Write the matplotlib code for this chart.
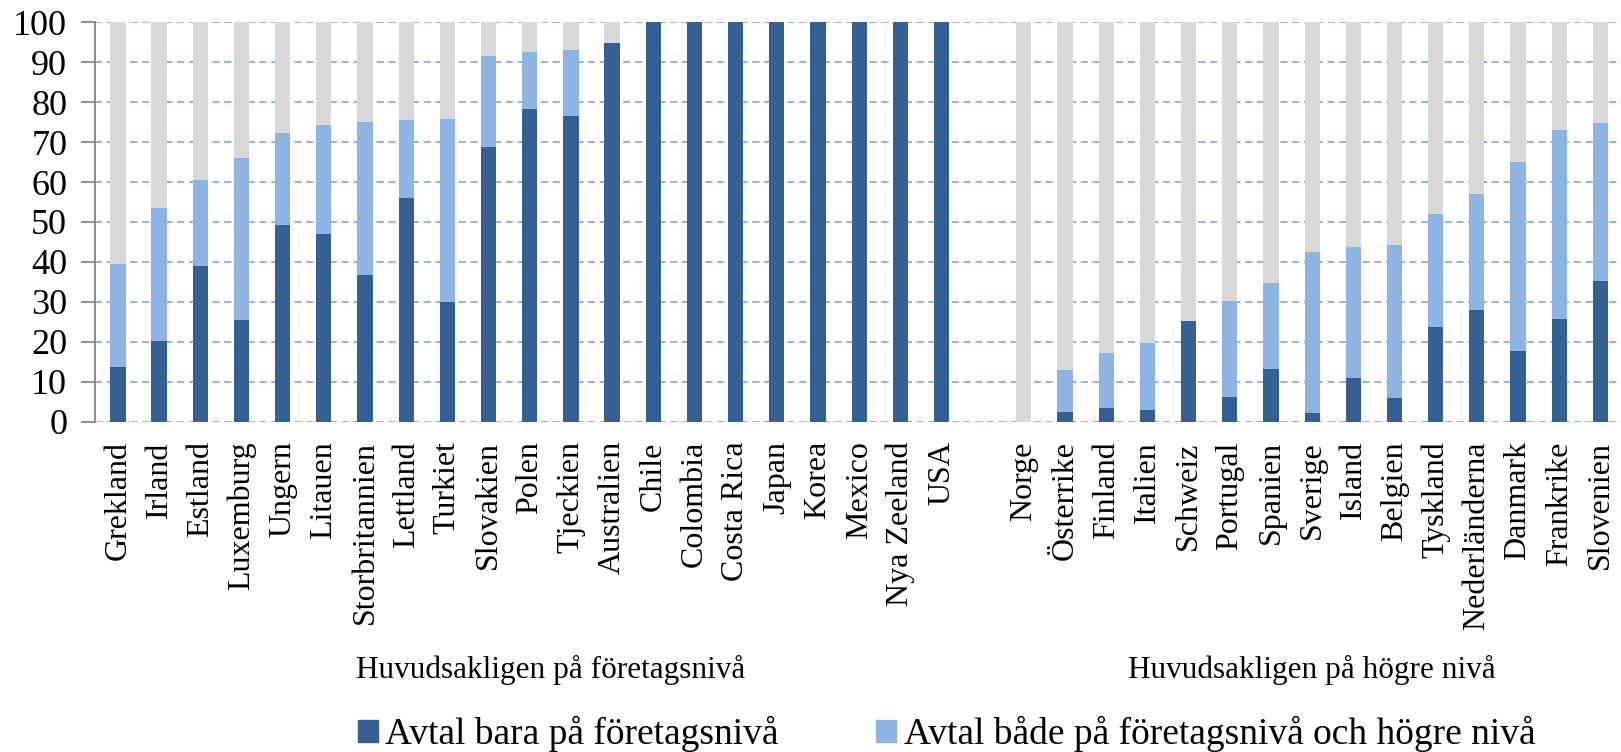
import numpy as np
import matplotlib.pyplot as plt
import matplotlib.transforms as mtransforms
from matplotlib.patches import Patch

plt.rcParams['font.family'] = ['Liberation Serif', 'DejaVu Serif']

# Huvudsakligen på företagsnivå
left_names = ['Grekland', 'Irland', 'Estland', 'Luxemburg', 'Ungern', 'Litauen',
              'Storbritannien', 'Lettland', 'Turkiet', 'Slovakien', 'Polen',
              'Tjeckien', 'Australien', 'Chile', 'Colombia', 'Costa Rica',
              'Japan', 'Korea', 'Mexico', 'Nya Zeeland', 'USA']
left_firm = [13.8, 20.2, 39.1, 25.5, 49.3, 47.1, 36.7, 56.0, 29.9, 68.9, 78.4,
             76.6, 94.9, 100, 100, 100, 100, 100, 100, 100, 100]
left_both = [25.7, 33.3, 21.4, 40.6, 22.9, 27.1, 38.3, 19.5, 45.9, 22.7, 14.1,
             16.5, 0, 0, 0, 0, 0, 0, 0, 0, 0]

# Huvudsakligen på högre nivå
right_names = ['Norge', 'Österrike', 'Finland', 'Italien', 'Schweiz', 'Portugal',
               'Spanien', 'Sverige', 'Island', 'Belgien', 'Tyskland',
               'Nederländerna', 'Danmark', 'Frankrike', 'Slovenien']
right_firm = [0, 2.4, 3.4, 2.9, 25.2, 6.1, 13.2, 2.1, 10.9, 6.0, 23.7, 28.0,
              17.7, 25.6, 35.2]
right_both = [0, 10.5, 13.9, 16.8, 0, 24.0, 21.5, 40.5, 32.8, 38.2, 28.3, 29.0,
              47.3, 47.4, 39.6]

group_labels = ['Huvudsakligen på företagsnivå', 'Huvudsakligen på högre nivå']
legend_labels = ['Avtal bara på företagsnivå',
                 'Avtal både på företagsnivå och högre nivå']

c_firm = '#376092'
c_both = '#8EB4E3'
c_high = '#D9D9D9'

names = left_names + right_names
firm = np.array(left_firm + right_firm)
both = np.array(left_both + right_both)
high = 100 - firm - both
x = np.concatenate([np.arange(len(left_names)),
                    len(left_names) + 1 + np.arange(len(right_names))])

fig = plt.figure(figsize=(16.21, 7.52), dpi=100)
ax = fig.add_axes([95 / 1621, 1 - 421.7 / 752, 1 - 95 / 1621, (421.7 - 22.3) / 752])

w = 0.37
ax.bar(x, firm, w, color=c_firm, zorder=3)
ax.bar(x, both, w, bottom=firm, color=c_both, zorder=3)
ax.bar(x, high, w, bottom=firm + both, color=c_high, zorder=3)

ax.set_xlim(-0.556, x[-1] + 0.5)
ax.set_ylim(0, 100)
ax.set_yticks(np.arange(0, 101, 10))
ax.yaxis.grid(True, linestyle=(0, (4, 2.5)), color='#8EAEDB', linewidth=1.3, zorder=0)
ax.set_axisbelow(True)
ax.tick_params(axis='y', labelsize=26, length=10, width=1.3, color='#868686', pad=10)
ax.set_xticks(x)
ax.set_xticklabels(names, rotation=90, fontsize=23)
ax.tick_params(axis='x', length=0, pad=14)

for s in ['top', 'right', 'bottom']:
    ax.spines[s].set_visible(False)
ax.spines['left'].set_color('#868686')
ax.spines['left'].set_linewidth(1.3)

trans = mtransforms.blended_transform_factory(ax.transData, fig.transFigure)
ax.text((len(left_names)) / 2, 1 - 670 / 752, group_labels[0], transform=trans,
        ha='center', va='center', fontsize=22.5)
ax.text(len(left_names) + 1 + (len(right_names) - 1) / 2, 1 - 670 / 752, group_labels[1],
        transform=trans, ha='center', va='center', fontsize=22.5)

handles = [Patch(color=c_firm), Patch(color=c_both)]
fig.legend(handles, legend_labels, loc='center left', ncol=2,
           bbox_to_anchor=(358 / 1621, 1 - 734 / 752), frameon=False, fontsize=27,
           handlelength=0.53, handleheight=0.53, handletextpad=0.2,
           columnspacing=2.6, borderpad=0, borderaxespad=0)

fig.savefig('out.png', dpi=100)
